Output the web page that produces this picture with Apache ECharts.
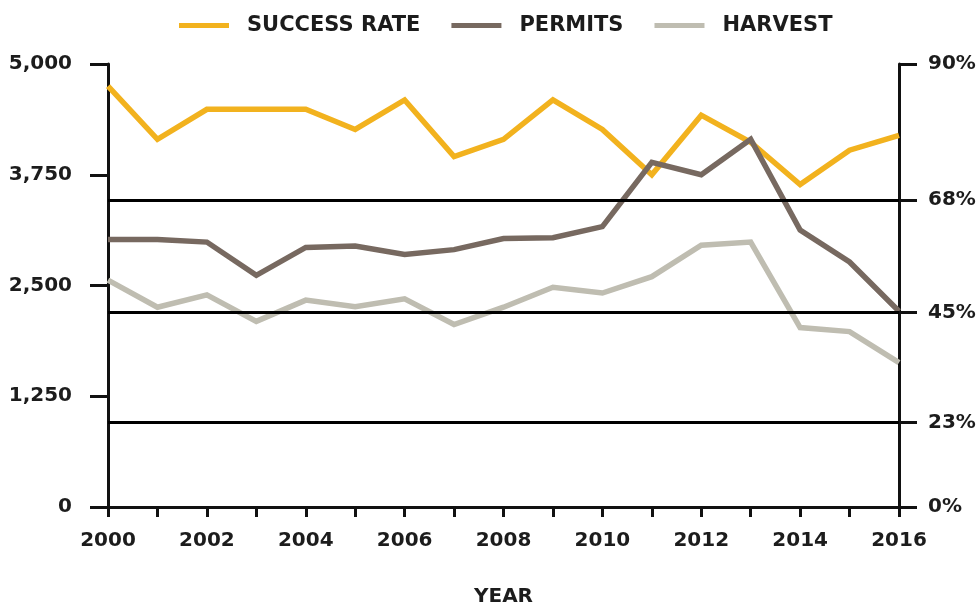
<!DOCTYPE html>
<html>
<head>
<meta charset="utf-8">
<script src="https://cdn.jsdelivr.net/npm/echarts@6/dist/echarts.min.js"></script>
<style>
html,body{margin:0;padding:0;background:#fff;}
#chart{width:977px;height:606px;}
</style>
</head>
<body>
<div id="chart"></div>
<script>
const years = ['2000','2001','2002','2003','2004','2005','2006','2007','2008','2009','2010','2011','2012','2013','2014','2015','2016'];
const successRate = [85.5, 74.7, 80.8, 80.8, 80.8, 76.7, 82.7, 71.2, 74.7, 82.7, 76.7, 67.5, 79.6, 74.1, 65.5, 72.5, 75.5];
const permits = [3020, 3020, 2990, 2615, 2930, 2945, 2850, 2905, 3030, 3040, 3165, 3890, 3750, 4150, 3125, 2765, 2210];
const harvest = [2560, 2255, 2395, 2095, 2335, 2260, 2350, 2060, 2255, 2480, 2415, 2600, 2955, 2990, 2025, 1980, 1630];
const rightTickValues = [0, 17.2, 39.5, 62.4, 90];
const rightTickLabels = ['0%', '23%', '45%', '68%', '90%'];
const gridLineValues = [17.2, 39.5, 62.4];

const FONT = 'DejaVu Sans';
const labelStyle = { color: '#1c1c1c', fontFamily: FONT, fontWeight: 'bold', fontSize: 20 };
const axisLineStyle = { color: '#111', width: 3 };

const chart = echarts.init(document.getElementById('chart'));
chart.setOption({
  animation: false,
  backgroundColor: '#fff',
  grid: { left: 108, right: 78, top: 64, bottom: 99, containLabel: false, outerBoundsMode: 'none' },
  legend: {
    top: 10,
    left: 174,
    icon: 'rect',
    itemWidth: 50,
    itemHeight: 5,
    itemGap: 31,
    textStyle: Object.assign({}, labelStyle, { fontSize: 21, padding: [0, 0, 0, 13] }),
    data: ['SUCCESS RATE', 'PERMITS', 'HARVEST']
  },
  xAxis: {
    type: 'category',
    data: years,
    boundaryGap: false,
    name: 'YEAR',
    nameLocation: 'middle',
    nameGap: 80,
    nameTextStyle: labelStyle,
    axisLine: { show: true, lineStyle: axisLineStyle },
    axisTick: { show: true, interval: 0, length: 10, lineStyle: axisLineStyle },
    axisLabel: Object.assign({ interval: 1, margin: 24 }, labelStyle),
    splitLine: { show: false }
  },
  yAxis: [
    {
      type: 'value',
      position: 'left',
      min: 0, max: 5000, interval: 1250,
      axisLine: { show: true, lineStyle: axisLineStyle },
      axisTick: { show: true, length: 18, lineStyle: axisLineStyle },
      axisLabel: Object.assign({ margin: 36, formatter: v => v.toLocaleString('en-US') }, labelStyle),
      splitLine: { show: false }
    },
    {
      type: 'value',
      position: 'right',
      min: 0, max: 90,
      axisLine: { show: true, lineStyle: axisLineStyle },
      axisTick: { show: true, length: 18, lineStyle: axisLineStyle, customValues: rightTickValues },
      axisLabel: Object.assign({
        margin: 29,
        customValues: rightTickValues,
        formatter: v => {
          let best = 0;
          rightTickValues.forEach((t, i) => { if (Math.abs(t - v) < Math.abs(rightTickValues[best] - v)) best = i; });
          return rightTickLabels[best];
        }
      }, labelStyle),
      splitLine: { show: false }
    }
  ],
  series: [
    {
      name: 'SUCCESS RATE', type: 'line', yAxisIndex: 1, data: successRate,
      symbol: 'none', color: '#F2B21E', lineStyle: { width: 5.5, color: '#F2B21E', join: 'miter' }, z: 2,
      markLine: {
        silent: true, symbol: 'none', z: 10,
        label: { show: false },
        lineStyle: { color: '#000', width: 3, type: 'solid' },
        data: gridLineValues.map(v => ({ yAxis: v }))
      }
    },
    {
      name: 'PERMITS', type: 'line', yAxisIndex: 0, data: permits,
      symbol: 'none', color: '#776960', lineStyle: { width: 5.5, color: '#776960', join: 'miter' }, z: 3
    },
    {
      name: 'HARVEST', type: 'line', yAxisIndex: 0, data: harvest,
      symbol: 'none', color: '#BFBDB1', lineStyle: { width: 5.5, color: '#BFBDB1', join: 'miter' }, z: 3
    }
  ]
});
</script>
</body>
</html>
